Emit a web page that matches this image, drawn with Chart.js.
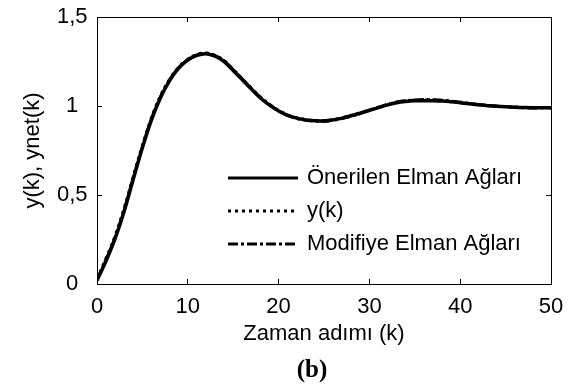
<!DOCTYPE html>
<html>
<head>
<meta charset="utf-8">
<script src="https://cdn.jsdelivr.net/npm/chart.js@4.4.0/dist/chart.umd.min.js"></script>
<style>
html,body{margin:0;padding:0;background:#fff;}
#wrap{position:relative;width:571px;height:387px;}
#cap{position:absolute;left:312px;top:354px;transform:translateX(-50%);font:bold 25px "Liberation Serif","Times New Roman",serif;line-height:30px;color:#000;white-space:nowrap;}
</style>
</head>
<body>
<div id="wrap">
<canvas id="c" width="571" height="387"></canvas>
<div id="cap">(b)</div>
</div>
<script>
const steps = [0,1,2,3,4,5,6,7,8,9,10,11,12,13,14,15,16,17,18,19,20,21,22,23,24,25,26,27,28,29,30,31,32,33,34,35,36,37,38,39,40,41,42,43,44,45,46,47,48,49,50];

const onerilen = [0.02,0.13,0.256,0.41,0.59,0.765,0.922,1.048,1.143,1.213,1.258,1.284,1.294,1.28,1.25,1.2,1.148,1.095,1.045,1.005,0.972,0.948,0.932,0.922,0.917,0.916,0.922,0.932,0.945,0.96,0.976,0.991,1.006,1.018,1.025,1.029,1.03,1.03,1.028,1.024,1.018,1.012,1.007,1.002,0.998,0.996,0.993,0.991,0.99,0.99,0.99];

const yk = [0.03,0.145,0.272,0.428,0.606,0.778,0.934,1.058,1.15,1.219,1.263,1.289,1.298,1.285,1.255,1.206,1.153,1.1,1.05,1.009,0.975,0.95,0.934,0.924,0.919,0.918,0.923,0.934,0.947,0.962,0.978,0.993,1.008,1.02,1.028,1.032,1.033,1.033,1.031,1.027,1.021,1.014,1.008,1.003,0.999,0.997,0.994,0.992,0.991,0.991,0.991];

const modifiye = [0.025,0.138,0.263,0.419,0.598,0.771,0.928,1.053,1.147,1.216,1.261,1.287,1.296,1.283,1.253,1.203,1.151,1.098,1.048,1.008,0.973,0.947,0.93,0.92,0.915,0.914,0.92,0.93,0.943,0.958,0.975,0.992,1.009,1.022,1.03,1.034,1.036,1.035,1.033,1.028,1.021,1.014,1.008,1.003,0.999,0.996,0.993,0.99,0.989,0.99,0.99];

const seriesNames = ['Önerilen Elman Ağları','y(k)','Modifiye Elman Ağları'];
const yTicks = [0,0.5,1,1.5];
const xTicks = [0,10,20,30,40,50];

const FONT = '"Liberation Sans", Arial, sans-serif';
const toPts = arr => steps.map((k,i)=>({x:k,y:arr[i]}));

const inLegend = {
  id:'inLegend',
  afterDatasetsDraw(chart){
    const ctx = chart.ctx, ca = chart.chartArea;
    ctx.save();
    chart.data.datasets.forEach((ds,i)=>{
      const y = ca.top + 161 + i*33;
      const x1 = ca.left + 131, x2 = ca.left + 201;
      ctx.beginPath();
      ctx.setLineDash(ds.borderDash || []);
      ctx.lineWidth = 3;
      ctx.lineCap = 'butt';
      ctx.strokeStyle = '#000';
      ctx.moveTo(x1,y); ctx.lineTo(x2,y);
      ctx.stroke();
      ctx.setLineDash([]);
      ctx.fillStyle = '#000';
      ctx.font = '22px ' + FONT;
      ctx.textBaseline = 'middle';
      ctx.textAlign = 'left';
      ctx.fillText(ds.label, x2 + 9, y);
    });
    ctx.restore();
  }
};

const commonGrid = {drawOnChartArea:false, drawTicks:true, tickLength:-5, color:'#000', lineWidth:1};
const commonBorder = {display:true, color:'#000', width:1};
function noPadH(s){ s.paddingLeft = 0; s.paddingRight = 0; }
function noPadV(s){ s.paddingTop = 0; s.paddingBottom = 0; }

new Chart(document.getElementById('c'), {
  type:'line',
  data:{
    datasets:[
      {label:seriesNames[0], data:toPts(onerilen), borderColor:'#000', borderWidth:3.5, borderDash:[], pointRadius:0, tension:0.4, fill:false},
      {label:seriesNames[1], data:toPts(yk), borderColor:'#000', borderWidth:3, borderDash:[3,4], pointRadius:0, tension:0.4, fill:false},
      {label:seriesNames[2], data:toPts(modifiye), borderColor:'#000', borderWidth:3, borderDash:[10,3,3,3], pointRadius:0, tension:0.4, fill:false}
    ]
  },
  plugins:[inLegend],
  options:{
    responsive:false,
    animation:false,
    layout:{padding:{left:0,right:20,top:17,bottom:33}},
    plugins:{legend:{display:false}, tooltip:{enabled:false}},
    scales:{
      x:{type:'linear', position:'bottom', min:0, max:50,
        afterBuildTicks(s){ s.ticks = xTicks.map(v=>({value:v})); },
        ticks:{color:'#000', font:{family:FONT,size:22}, padding:15, maxRotation:0, autoSkip:false},
        grid:commonGrid, border:commonBorder,
        title:{display:true, text:'Zaman adımı (k)', color:'#000', font:{family:FONT,size:22}, padding:7},
        afterFit(s){ s.height = 70; noPadH(s); }
      },
      x2:{type:'linear', position:'top', min:0, max:50,
        afterBuildTicks(s){ s.ticks = xTicks.map(v=>({value:v})); },
        ticks:{display:false}, grid:commonGrid, border:commonBorder,
        afterFit(s){ s.height = 0; noPadH(s); }
      },
      y:{type:'linear', position:'left', min:0, max:1.5,
        afterBuildTicks(s){ s.ticks = yTicks.map(v=>({value:v})); },
        ticks:{color:'#000', font:{family:FONT,size:22}, padding:14.5, crossAlign:'center',
          callback:v=>String(v).replace('.',',')},
        grid:commonGrid, border:commonBorder,
        title:{display:true, text:'y(k), ynet(k)', color:'#000', font:{family:FONT,size:22}, padding:20},
        afterFit(s){ s.width = 97; noPadV(s); }
      },
      y2:{type:'linear', position:'right', min:0, max:1.5,
        afterBuildTicks(s){ s.ticks = yTicks.map(v=>({value:v})); },
        ticks:{display:false}, grid:commonGrid, border:commonBorder,
        afterFit(s){ s.width = 0; noPadV(s); }
      }
    }
  }
});
</script>
</body>
</html>
